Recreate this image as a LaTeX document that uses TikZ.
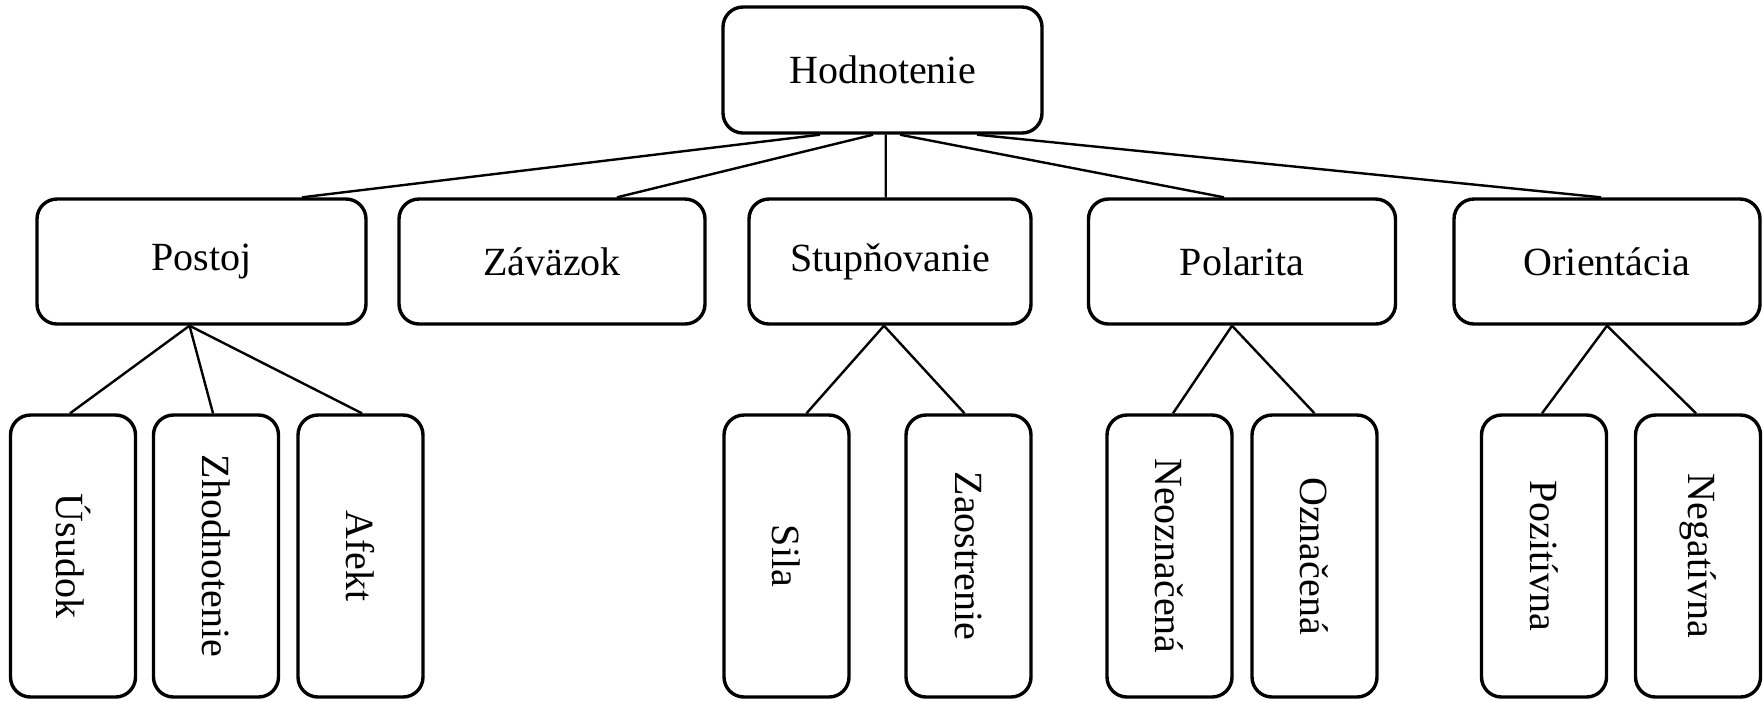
\documentclass[tikz,border=0pt]{standalone}
\usepackage{fontspec}
\setmainfont{Liberation Serif}
\usetikzlibrary{calc}
\begin{document}
\begin{tikzpicture}[x=0.25pt,y=-0.25pt]
            \tikzstyle{every node}+=[inner sep=0pt]
            \tikzstyle{box}=[draw=black, line width=0.85pt, rounded corners=5pt, font=\fontsize{10}{12}\selectfont]
            \tikzstyle{wide}=[box, minimum height=31.25pt]
            \tikzstyle{tall}=[box, minimum width=31.25pt, minimum height=70.5pt]
            \tikzstyle{link}=[black, line width=0.6pt]
            \useasboundingbox (0,0) rectangle (1764,700);
            % top
            \node [wide, minimum width=79.75pt, minimum height=31.5pt] (hod) at (882.5,70) {Hodnotenie};
            % second row
            \node [wide, minimum width=82.25pt] (postoj) at (201.5,261.5) {Postoj};
            \node [wide, minimum width=76.5pt] (zavazok) at (552,261.5) {Záväzok};
            \node [wide, minimum width=70.5pt] (stup) at (890,261.5) {Stupňovanie};
            \node [wide, minimum width=76.75pt] (pol) at (1242,261.5) {Polarita};
            \node [wide, minimum width=76.5pt] (ori) at (1607,261.5) {Orientácia};
            % third row
            \node [tall] (usudok) at (73,556) {\rotatebox{-90}{Úsudok}};
            \node [tall] (zhod) at (216,556) {\rotatebox{-90}{Zhodnotenie}};
            \node [tall] (afekt) at (360.5,556) {\rotatebox{-90}{Afekt}};
            \node [tall] (sila) at (786.5,556) {\rotatebox{-90}{Sila}};
            \node [tall] (zaost) at (968.5,556) {\rotatebox{-90}{Zaostrenie}};
            \node [tall] (neoz) at (1169.5,556) {\rotatebox{-90}{Neoznačená}};
            \node [tall] (ozn) at (1314.5,556) {\rotatebox{-90}{Označená}};
            \node [tall] (poz) at (1544,556) {\rotatebox{-90}{Pozitívna}};
            \node [tall] (neg) at (1698,556) {\rotatebox{-90}{Negatívna}};
            % links from the top
            \draw [link] ($(hod.south)+(-62.5,0)$) -- ($(postoj.north)+(100.5,0)$);
            \draw [link] ($(hod.south)+(-9.5,0)$) -- ($(zavazok.north)+(65,0)$);
            \draw [link] ($(hod.south)+(3.2,0)$) -- ($(stup.north)+(-4.3,0)$);
            \draw [link] ($(hod.south)+(17.5,0)$) -- ($(pol.north)+(-18,0)$);
            \draw [link] ($(hod.south)+(94.5,0)$) -- ($(ori.north)+(-6,0)$);
            % links to the third row
            \draw [link] ($(postoj.south)+(-12,0)$) -- ($(usudok.north)+(-3,0)$);
            \draw [link] ($(postoj.south)+(-12,0)$) -- ($(zhod.north)+(-3,0)$);
            \draw [link] ($(postoj.south)+(-12,0)$) -- ($(afekt.north)+(1.5,0)$);
            \draw [link] ($(stup.south)+(-6,0)$) -- ($(sila.north)+(20,0)$);
            \draw [link] ($(stup.south)+(-6,0)$) -- ($(zaost.north)+(-4,0)$);
            \draw [link] ($(pol.south)+(-10,0)$) -- ($(neoz.north)+(3.5,0)$);
            \draw [link] ($(pol.south)+(-10,0)$) -- ($(ozn.north)+(0,0)$);
            \draw [link] (ori.south) -- ($(poz.north)+(-2,0)$);
            \draw [link] (ori.south) -- ($(neg.north)+(-2,0)$);
\end{tikzpicture}
\end{document}
